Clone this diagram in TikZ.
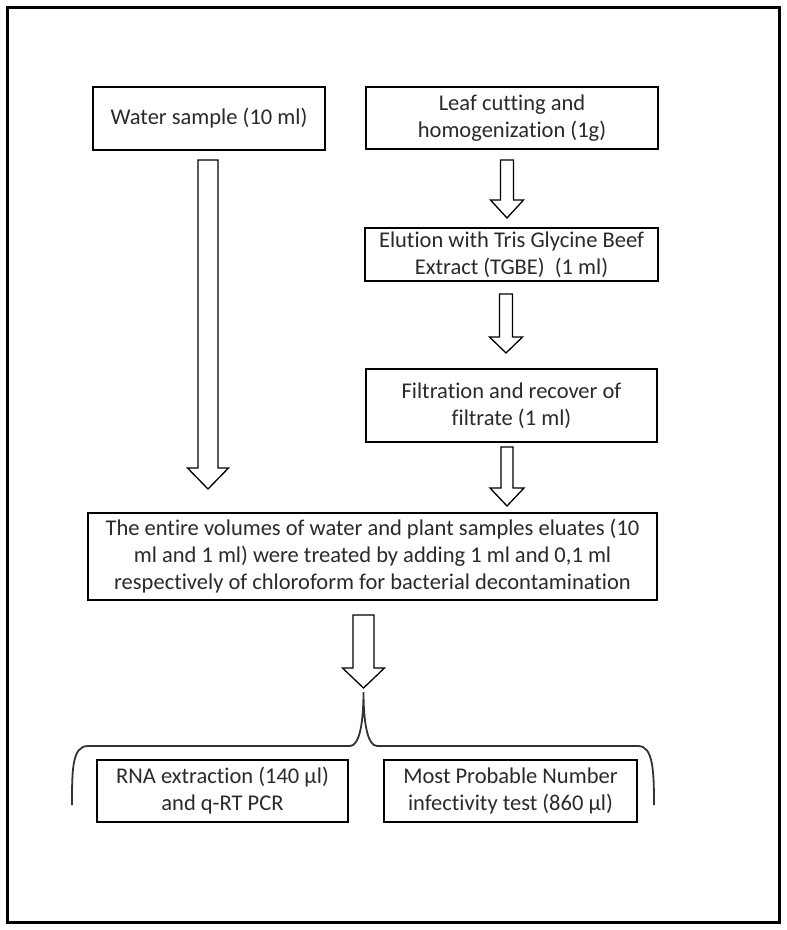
\documentclass[tikz,border=0pt]{standalone}
\usepackage{fontspec}
\setmainfont{Carlito}[Ligatures={NoCommon}]
\definecolor{txt}{HTML}{2A2A2A}
\begin{document}
\begin{tikzpicture}[x=1pt,y=-1pt,
  box/.style={draw=black,line width=1.6pt,fill=white,inner sep=0pt,align=center,
    text=txt,font=\fontsize{22.5}{27}\selectfont},
  barrow/.style={draw=black,line width=1.3pt,fill=white,line join=miter},
  bracestyle/.style={draw=black!80,line width=1.8pt}]
\useasboundingbox (0,0) rectangle (787,930);
\draw[line width=3pt] (7,7) rectangle (779,922);
% boxes
\node[box,minimum width=232pt,minimum height=63pt] (water) at (209,118.5) {Water sample (10 ml)};
\node[box,minimum width=292pt,minimum height=62pt] (leaf) at (512,118) {Leaf cutting and\\homogenization (1g)};
\node[box,minimum width=293pt,minimum height=53pt] (elution) at (511.5,254.5) {Elution with Tris Glycine Beef\\Extract (TGBE)\ \ (1 ml)};
\node[box,minimum width=291pt,minimum height=73pt] (filt) at (511.5,405.5) {Filtration and recover of\\filtrate (1 ml)};
\node[box,minimum width=569pt,minimum height=87pt] (big) at (372.5,556.5) {The entire volumes of water and plant samples eluates (10\\ml and 1 ml) were treated by adding 1 ml and 0,1 ml\\respectively of chloroform for bacterial decontamination};
\node[box,minimum width=251pt,minimum height=62pt] (rna) at (222.5,791) {RNA extraction (140 µl)\\and q-RT PCR};
\node[box,minimum width=253pt,minimum height=62pt] (mpn) at (510.5,791) {Most Probable Number\\infectivity test (860 µl)};
% block arrows: \barr{x}{top}{headbase}{tip}{shafthalf}{headhalf}
\newcommand\barr[6]{\draw[barrow] (#1-#5,#2) -- (#1+#5,#2) -- (#1+#5,#3) -- (#1+#6,#3) -- (#1,#4) -- (#1-#6,#3) -- (#1-#5,#3) -- cycle;}
\barr{208}{160}{468}{489}{10}{20.5}
\barr{507}{160}{200}{218}{6.5}{16.5}
\barr{506}{294}{337}{353}{6.5}{16.5}
\barr{507}{447}{488}{506}{6}{17}
\barr{363.5}{615}{668}{688}{10.5}{21}
% brace
\coordinate (cusp) at (363.5,692);
\draw[bracestyle] (72,805) .. controls (72,770) and (72,746) .. (88,746) -- (350,746)
  .. controls (360,746) and (363.5,720) .. (cusp)
  .. controls (363.5,720) and (367,746) .. (377,746) -- (638,746)
  .. controls (653,746) and (654,770) .. (654,805);
\end{tikzpicture}
\end{document}
